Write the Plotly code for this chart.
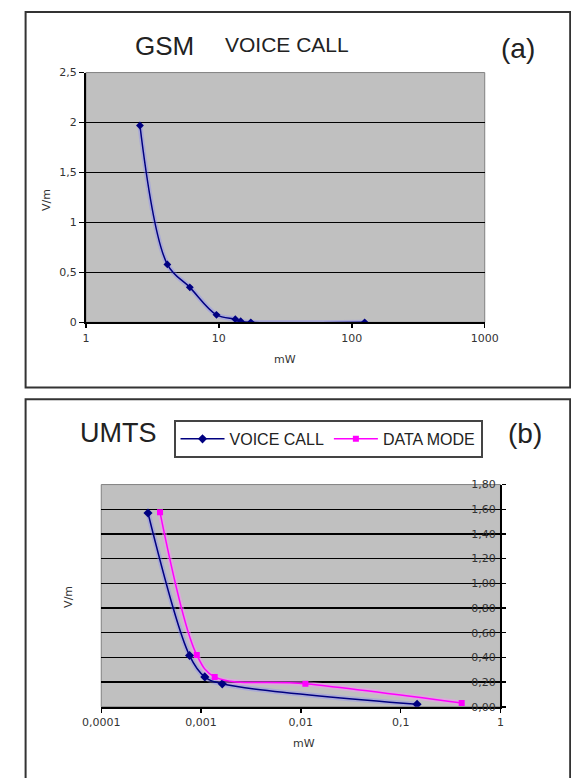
import plotly.graph_objects as go

W, H = 571, 778

# ---------------- data ----------------
# (a) GSM, voice call
gsm_power_mw = [2.55, 4.1, 6.05, 9.6, 13.3, 14.6, 17.4, 125]
gsm_field_vm = [1.97, 0.58, 0.35, 0.075, 0.032, 0.012, 0.0, 0.0]

# (b) UMTS
umts_voice_power_mw = [0.000294, 0.000767, 0.00109, 0.00163, 0.146]
umts_voice_field_vm = [1.57, 0.415, 0.242, 0.186, 0.02]
umts_data_power_mw = [0.000388, 0.000906, 0.00137, 0.0111, 0.409]
umts_data_field_vm = [1.575, 0.42, 0.242, 0.186, 0.03]

gsm_x_ticks = [1, 10, 100, 1000]
gsm_x_ticktext = ["1", "10", "100", "1000"]
gsm_y_ticks = [0, 0.5, 1, 1.5, 2, 2.5]
gsm_y_ticktext = ["0", "0,5", "1", "1,5", "2", "2,5"]

umts_x_ticks = [0.0001, 0.001, 0.01, 0.1, 1]
umts_x_ticktext = ["0,0001", "0,001", "0,01", "0,1", "1"]
umts_y_ticks = [0, 0.2, 0.4, 0.6, 0.8, 1.0, 1.2, 1.4, 1.6, 1.8]
umts_y_ticktext = ["0,00", "0,20", "0,40", "0,60", "0,80", "1,00", "1,20", "1,40", "1,60", "1,80"]

series_names = ["VOICE CALL", "DATA MODE"]

# ---------------- styling helpers ----------------
NAVY = "#000080"
MAGENTA = "#FF00FF"
PLOT_BG = "#C0C0C0"
TICK_FONT = dict(family="DejaVu Sans", size=11, color="#333333")
TXT = "Liberation Sans, Arial, sans-serif"


def px(x):
    return x / W


def py(y):
    return 1 - y / H


# plot areas in pixels
A_L, A_R, A_T, A_B = 71, 494.3, 67.7, 321.7
B_L, B_R, B_T, B_B = 87.3, 511, 486.7, 712.7

fig = go.Figure()

# GSM halo + line
fig.add_trace(go.Scatter(
    x=gsm_power_mw, y=gsm_field_vm, mode="lines", xaxis="x", yaxis="y",
    line=dict(color="rgba(130,130,255,0.35)", width=5, shape="spline", smoothing=1),
    showlegend=False, hoverinfo="skip"))
fig.add_trace(go.Scatter(
    x=gsm_power_mw, y=gsm_field_vm, mode="lines+markers", xaxis="x", yaxis="y",
    line=dict(color=NAVY, width=1.5, shape="spline", smoothing=1),
    marker=dict(symbol="diamond", size=6, color=NAVY),
    name=series_names[0], showlegend=False))

# UMTS halos
fig.add_trace(go.Scatter(
    x=umts_voice_power_mw, y=umts_voice_field_vm, mode="lines", xaxis="x2", yaxis="y2",
    line=dict(color="rgba(130,130,255,0.35)", width=5, shape="spline", smoothing=1),
    showlegend=False, hoverinfo="skip"))
fig.add_trace(go.Scatter(
    x=umts_data_power_mw, y=umts_data_field_vm, mode="lines", xaxis="x2", yaxis="y2",
    line=dict(color="rgba(255,140,255,0.45)", width=5, shape="spline", smoothing=1),
    showlegend=False, hoverinfo="skip"))
fig.add_trace(go.Scatter(
    x=umts_voice_power_mw, y=umts_voice_field_vm, mode="lines+markers", xaxis="x2", yaxis="y2",
    line=dict(color=NAVY, width=1.5, shape="spline", smoothing=1),
    marker=dict(symbol="diamond", size=7, color=NAVY),
    name=series_names[0]))
fig.add_trace(go.Scatter(
    x=umts_data_power_mw, y=umts_data_field_vm, mode="lines+markers", xaxis="x2", yaxis="y2",
    line=dict(color=MAGENTA, width=1.5, shape="spline", smoothing=1),
    marker=dict(symbol="square", size=6, color=MAGENTA),
    name=series_names[1]))

axis_common = dict(showline=True, linecolor="black", linewidth=2, zeroline=False,
                   ticks="outside", tickcolor="black", tickwidth=1.5,
                   tickfont=TICK_FONT, fixedrange=True)

fig.update_layout(
    width=W, height=H,
    margin=dict(l=0, r=0, t=0, b=0),
    paper_bgcolor="white", plot_bgcolor=PLOT_BG,
    xaxis=dict(domain=[px(A_L), px(A_R)], anchor="y", type="log", range=[0, 3],
               tickvals=gsm_x_ticks, ticktext=gsm_x_ticktext, ticklen=4,
               showgrid=False, **axis_common),
    yaxis=dict(domain=[py(A_B), py(A_T)], anchor="x", range=[0, 2.5],
               tickvals=gsm_y_ticks, ticktext=gsm_y_ticktext, ticklen=5,
               showgrid=True, gridcolor="black", gridwidth=1.5, **axis_common),
    xaxis2=dict(domain=[px(B_L), px(B_R)], anchor="y2", type="log", range=[-4, 0],
                tickvals=umts_x_ticks, ticktext=umts_x_ticktext, ticklen=4,
                showgrid=False, **axis_common),
    yaxis2=dict(domain=[py(B_B), py(B_T)], anchor="x2", range=[0, 1.8], side="right",
                ticklabelposition="inside", ticklabelstandoff=4, ticklabeloverflow="allow",
                tickvals=umts_y_ticks, ticktext=umts_y_ticktext, ticklen=4,
                showgrid=True, gridcolor="black", gridwidth=1.5, **axis_common),
    legend=dict(orientation="h", x=px(164), y=py(421), xanchor="left", yanchor="top",
                bgcolor="white", bordercolor="#444444", borderwidth=2,
                font=dict(family=TXT, size=16, color="#222222"),
                itemwidth=44, tracegroupgap=0),
    showlegend=True,
)

shapes = [
    # outer panel frames
    dict(type="rect", xref="paper", yref="paper", x0=px(7), x1=px(585), y0=py(6), y1=py(388),
         line=dict(color="#333333", width=2), fillcolor="rgba(0,0,0,0)", layer="below"),
    dict(type="rect", xref="paper", yref="paper", x0=px(7), x1=px(585), y0=py(400), y1=py(795),
         line=dict(color="#333333", width=2), fillcolor="rgba(0,0,0,0)", layer="below"),
    # thin grey plot-area borders
    dict(type="rect", xref="paper", yref="paper", x0=px(A_L), x1=px(A_R), y0=py(A_B), y1=py(A_T),
         line=dict(color="#808080", width=1), layer="below"),
    dict(type="rect", xref="paper", yref="paper", x0=px(B_L), x1=px(B_R), y0=py(B_B), y1=py(B_T),
         line=dict(color="#808080", width=1), layer="below"),
]
fig.update_layout(shapes=shapes)

ann = [
    dict(text="GSM", x=px(154), y=py(41), font=dict(family=TXT, size=26, color="#222222")),
    dict(text="VOICE CALL", x=px(284), y=py(39), font=dict(family=TXT, size=21, color="#222222")),
    dict(text="(a)", x=px(530), y=py(43), font=dict(family=TXT, size=28, color="#222222")),
    dict(text="UMTS", x=px(105.5), y=py(434), font=dict(family=TXT, size=27, color="#222222")),
    dict(text="(b)", x=px(537), y=py(435), font=dict(family=TXT, size=28, color="#222222")),
    dict(text="mW", x=px(282), y=py(360), font=dict(family="DejaVu Sans", size=11, color="#333333")),
    dict(text="V/m", x=px(29), y=py(197), textangle=-90,
         font=dict(family="DejaVu Sans", size=11, color="#333333")),
    dict(text="mW", x=px(302), y=py(750), font=dict(family="DejaVu Sans", size=11, color="#333333")),
    dict(text="V/m", x=px(53), y=py(601), textangle=-90,
         font=dict(family="DejaVu Sans", size=11, color="#333333")),
]
for a in ann:
    a.update(xref="paper", yref="paper", showarrow=False, xanchor="center", yanchor="middle")
fig.update_layout(annotations=ann)

fig.write_html("out.html", config={"displayModeBar": False, "staticPlot": True},
               post_script="document.body.style.margin='0';document.body.style.overflow='hidden';")
